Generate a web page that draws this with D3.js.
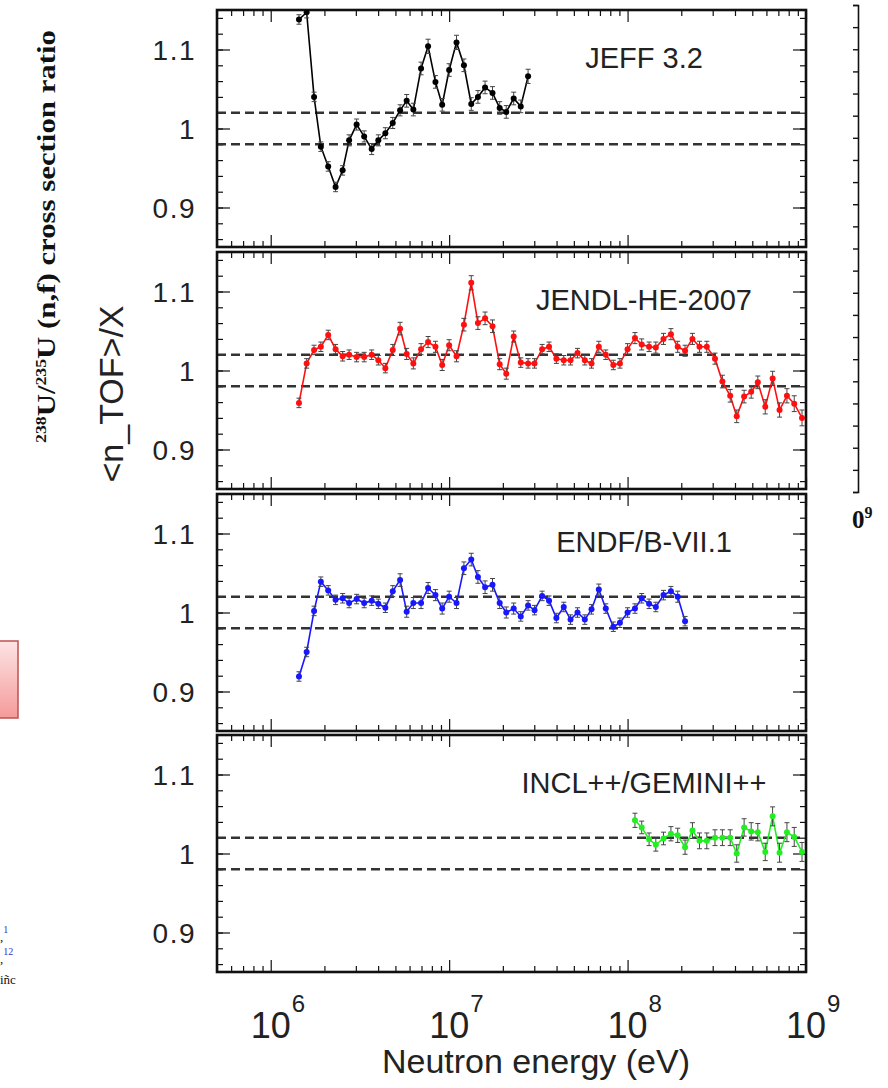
<!DOCTYPE html>
<html>
<head>
<meta charset="utf-8">
<script src="https://cdn.jsdelivr.net/npm/d3@7"></script>
<style>
body { margin: 0; background: #fff; }
svg { display: block; }
</style>
</head>
<body>
<div id="chart"></div>
<script>
// bin centres (eV)
var energy = [1.44e6,1.59e6,1.75e6,1.91e6,2.10e6,2.31e6,2.53e6,2.75e6,3.03e6,3.34e6,
  3.68e6,4.01e6,4.39e6,4.83e6,5.31e6,5.78e6,6.30e6,6.96e6,7.62e6,8.38e6,
  9.14e6,1.00e7,1.10e7,1.21e7,1.33e7,1.45e7,1.59e7,1.75e7,1.92e7,2.09e7,
  2.30e7,2.52e7,2.77e7,3.01e7,3.32e7,3.63e7,3.99e7,4.39e7,4.79e7,5.24e7,
  5.76e7,6.28e7,6.90e7,7.55e7,8.32e7,9.06e7,1.00e8,1.10e8,1.20e8,1.32e8,
  1.44e8,1.59e8,1.75e8,1.91e8,2.10e8,2.31e8,2.53e8,2.78e8,3.09e8,3.40e8,
  3.76e8,4.09e8,4.50e8,4.93e8,5.37e8,5.91e8,6.50e8,7.11e8,7.82e8,8.59e8,9.50e8];

var panelNames = ["JEFF 3.2", "JENDL-HE-2007", "ENDF/B-VII.1", "INCL++/GEMINI++"];
var firstBin = [0, 0, 0, 47];

var jeffRatio = [1.138,1.147,1.040,0.977,0.952,0.926,0.947,0.985,1.005,0.990,
  0.974,0.985,0.994,1.007,1.023,1.035,1.024,1.076,1.104,1.059,
  1.030,1.074,1.109,1.080,1.031,1.040,1.052,1.045,1.026,1.021,
  1.038,1.028,1.066];
var jeffErr = [0.006,0.007,0.006,0.006,0.006,0.006,0.006,0.007,0.007,0.007,
  0.007,0.007,0.007,0.007,0.007,0.008,0.008,0.008,0.009,0.008,
  0.008,0.008,0.009,0.008,0.008,0.008,0.008,0.008,0.008,0.008,
  0.008,0.008,0.009];

var jendlRatio = [0.959,1.009,1.026,1.030,1.045,1.027,1.018,1.020,1.017,1.017,
  1.020,1.013,1.003,1.026,1.053,1.021,1.009,1.027,1.036,1.030,
  1.007,1.032,1.018,1.058,1.111,1.060,1.066,1.056,1.008,0.996,
  1.043,1.010,1.009,1.009,1.027,1.030,1.015,1.013,1.013,1.022,
  1.013,1.009,1.030,1.020,1.007,1.009,1.027,1.041,1.033,1.030,
  1.029,1.040,1.046,1.030,1.025,1.040,1.030,1.030,1.015,0.986,
  0.968,0.942,0.967,0.973,0.985,0.954,0.990,0.950,0.968,0.958,0.940];
var jendlErr = [0.006,0.006,0.006,0.006,0.006,0.006,0.006,0.006,0.006,0.006,
  0.006,0.006,0.006,0.007,0.008,0.007,0.007,0.007,0.007,0.007,
  0.007,0.007,0.007,0.008,0.009,0.008,0.008,0.008,0.007,0.007,
  0.007,0.006,0.006,0.006,0.006,0.006,0.006,0.006,0.006,0.006,
  0.006,0.006,0.007,0.006,0.006,0.006,0.007,0.007,0.007,0.006,
  0.007,0.007,0.007,0.007,0.007,0.007,0.007,0.007,0.007,0.008,
  0.008,0.008,0.008,0.008,0.008,0.009,0.009,0.009,0.009,0.010,0.010];

var endfRatio = [0.919,0.950,1.002,1.039,1.028,1.016,1.018,1.012,1.017,1.012,
  1.015,1.011,1.006,1.027,1.041,1.001,1.012,1.012,1.031,1.022,
  1.005,1.020,1.012,1.056,1.067,1.045,1.032,1.035,1.012,1.000,
  1.005,0.995,1.009,1.003,1.021,1.015,0.993,1.007,0.991,1.000,
  0.991,1.004,1.029,1.005,0.982,0.987,1.000,1.005,1.018,1.011,
  1.007,1.022,1.027,1.020,0.989];
var endfErr = [0.006,0.006,0.006,0.006,0.006,0.006,0.006,0.006,0.006,0.006,
  0.006,0.006,0.006,0.007,0.008,0.007,0.007,0.007,0.007,0.007,
  0.007,0.007,0.007,0.008,0.008,0.008,0.008,0.008,0.007,0.007,
  0.007,0.006,0.006,0.006,0.006,0.006,0.006,0.006,0.006,0.006,
  0.006,0.006,0.007,0.006,0.006,0.006,0.006,0.006,0.006,0.006,
  0.006,0.006,0.006,0.007,0.006];

var inclRatio = [1.042,1.033,1.018,1.011,1.019,1.025,1.023,1.008,1.029,1.016,
  1.016,1.020,1.020,1.020,1.000,1.033,1.028,1.027,1.002,1.047,
  1.001,1.027,1.021,1.002];
var inclErr = [0.009,0.008,0.008,0.008,0.008,0.009,0.009,0.009,0.010,0.010,
  0.010,0.010,0.010,0.010,0.011,0.011,0.011,0.011,0.011,0.012,
  0.012,0.012,0.012,0.012];

var seriesColors = ["#000000", "#ff1010", "#1818ff", "#22ee22"];
var yTicks = [0.9, 1, 1.1];
var xDecades = [1e6, 1e7, 1e8, 1e9];
var xExponents = ["6", "7", "8", "9"];
var bandLines = [0.98, 1.02];

var ratios = [jeffRatio, jendlRatio, endfRatio, inclRatio];
var errors = [jeffErr, jendlErr, endfErr, inclErr];

var W = 888, H = 1088;
var left = 217, right = 806, panelH = 237;
var tops = [10, 252, 494, 735];

var svg = d3.select("#chart").append("svg")
  .attr("width", W).attr("height", H)
  .style("font-family", "'Liberation Sans', Arial, sans-serif");

var x = d3.scaleLog().domain([5e5, 1e9]).range([left, right]);
var minorX = x.ticks().filter(function(t){ return xDecades.indexOf(t) < 0; });

var defs = svg.append("defs");

ratios.forEach(function(vals, i){
  var top = tops[i], bottom = top + panelH;
  var y = d3.scaleLinear().domain([0.85, 1.15]).range([bottom, top]);
  var minorY = y.ticks(15);
  var g = svg.append("g");

  defs.append("clipPath").attr("id", "clip" + i)
    .append("rect").attr("x", left).attr("y", top)
    .attr("width", right - left).attr("height", panelH);

  // axes ticks (inward on all four sides)
  function ticks(axis, tr){
    var a = g.append("g").attr("transform", tr).call(axis);
    a.select(".domain").remove();
    a.selectAll("line").attr("stroke", "#111").attr("stroke-width", 1.2);
  }
  ticks(d3.axisBottom(x).tickValues(minorX).tickSize(-6).tickFormat(""), "translate(0," + bottom + ")");
  ticks(d3.axisBottom(x).tickValues(xDecades).tickSize(-12).tickFormat(""), "translate(0," + bottom + ")");
  ticks(d3.axisTop(x).tickValues(minorX).tickSize(-6).tickFormat(""), "translate(0," + top + ")");
  ticks(d3.axisTop(x).tickValues(xDecades).tickSize(-12).tickFormat(""), "translate(0," + top + ")");
  ticks(d3.axisLeft(y).tickValues(minorY).tickSize(-6).tickFormat(""), "translate(" + left + ",0)");
  ticks(d3.axisLeft(y).tickValues(yTicks).tickSize(-13).tickFormat(""), "translate(" + left + ",0)");
  ticks(d3.axisRight(y).tickValues(minorY).tickSize(-6).tickFormat(""), "translate(" + right + ",0)");
  ticks(d3.axisRight(y).tickValues(yTicks).tickSize(-13).tickFormat(""), "translate(" + right + ",0)");

  // dashed reference lines
  g.selectAll(".band").data(bandLines).enter().append("line")
    .attr("x1", left).attr("x2", right)
    .attr("y1", function(d){ return y(d); }).attr("y2", function(d){ return y(d); })
    .attr("stroke", "#333").attr("stroke-width", 2.4)
    .attr("stroke-dasharray", "9,5");

  // frame
  g.append("rect").attr("x", left).attr("y", top)
    .attr("width", right - left).attr("height", panelH)
    .attr("fill", "none").attr("stroke", "#111").attr("stroke-width", 2.6);

  // y tick labels
  g.selectAll(".yl").data(yTicks).enter().append("text")
    .attr("x", 196).attr("y", function(d){ return y(d); })
    .attr("dy", "0.36em").attr("text-anchor", "end")
    .attr("font-size", 28).attr("letter-spacing", 1.5).attr("fill", "#222")
    .text(function(d){ return d === 1 ? "1" : d3.format(".1f")(d); });

  // panel label
  g.append("text").attr("x", 644).attr("y", top + 58)
    .attr("text-anchor", "middle").attr("font-size", 29).attr("fill", "#222")
    .text(panelNames[i]);

  // data
  var pts = vals.map(function(v, k){
    return { e: energy[firstBin[i] + k], v: v, err: errors[i][k] };
  });
  var col = seriesColors[i];
  var dg = g.append("g").attr("clip-path", "url(#clip" + i + ")");

  dg.append("path").datum(pts)
    .attr("fill", "none").attr("stroke", col).attr("stroke-width", 1.6)
    .attr("d", d3.line().x(function(d){ return x(d.e); }).y(function(d){ return y(d.v); }));

  var eb = dg.selectAll(".eb").data(pts).enter().append("g")
    .attr("stroke", "#444").attr("stroke-width", 1);
  eb.append("line")
    .attr("x1", function(d){ return x(d.e); }).attr("x2", function(d){ return x(d.e); })
    .attr("y1", function(d){ return y(d.v - d.err); }).attr("y2", function(d){ return y(d.v + d.err); });
  eb.append("line")
    .attr("x1", function(d){ return x(d.e) - 2.5; }).attr("x2", function(d){ return x(d.e) + 2.5; })
    .attr("y1", function(d){ return y(d.v + d.err); }).attr("y2", function(d){ return y(d.v + d.err); });
  eb.append("line")
    .attr("x1", function(d){ return x(d.e) - 2.5; }).attr("x2", function(d){ return x(d.e) + 2.5; })
    .attr("y1", function(d){ return y(d.v - d.err); }).attr("y2", function(d){ return y(d.v - d.err); });

  dg.selectAll(".pt").data(pts).enter().append("circle")
    .attr("cx", function(d){ return x(d.e); }).attr("cy", function(d){ return y(d.v); })
    .attr("r", 3).attr("fill", col);
});

// x tick labels under the last panel
var xl = svg.selectAll(".xl").data(xDecades).enter().append("g")
  .attr("transform", function(d){ return "translate(" + x(d) + ",1038)"; });
xl.append("text").attr("text-anchor", "middle").attr("font-size", 36).attr("fill", "#222").text("10");
xl.append("text").attr("x", 21).attr("y", -26).attr("font-size", 24).attr("fill", "#222")
  .text(function(d, i){ return xExponents[i]; });

svg.append("text").attr("x", 536).attr("y", 1073).attr("text-anchor", "middle")
  .attr("font-size", 34).attr("fill", "#222").text("Neutron energy (eV)");

svg.append("text").attr("transform", "translate(123,394) rotate(-90)")
  .attr("text-anchor", "middle").attr("font-size", 34).attr("fill", "#222")
  .text("<n_TOF>/X");

// bold serif axis title left over from the original figure
var t2 = svg.append("text").attr("transform", "translate(55,443) rotate(-90)")
  .attr("font-family", "'Liberation Serif', 'Times New Roman', serif")
  .attr("font-weight", "bold").attr("font-size", 26).attr("fill", "#111")
  .attr("textLength", 413).attr("lengthAdjust", "spacingAndGlyphs");
t2.append("tspan").attr("font-size", 15).attr("dy", -9).text("238");
t2.append("tspan").attr("dy", 9).text("U/");
t2.append("tspan").attr("font-size", 15).attr("dy", -9).text("235");
t2.append("tspan").attr("dy", 9).text("U (n,f) cross section ratio");

// right-hand axis from the neighbouring figure
var yr = d3.scaleLinear().domain([0, 2.2]).range([492, 5]);
var ra = svg.append("g").attr("transform", "translate(858,0)")
  .call(d3.axisLeft(yr).ticks(22).tickSize(5).tickFormat(""));
ra.selectAll("line").attr("stroke", "#111").attr("stroke-width", 1.4);
ra.select(".domain").attr("stroke", "#111").attr("stroke-width", 1.6);

var r9 = svg.append("text").attr("x", 852).attr("y", 528)
  .attr("font-family", "'Liberation Serif', serif").attr("font-weight", "bold")
  .attr("font-size", 25).attr("fill", "#111");
r9.append("tspan").text("0");
r9.append("tspan").attr("font-size", 16).attr("dy", -10).text("9");

// red box and text fragments on the left edge
var grad = defs.append("linearGradient").attr("id", "pink")
  .attr("x1", 0).attr("y1", 0).attr("x2", 0).attr("y2", 1);
grad.append("stop").attr("offset", 0).attr("stop-color", "#fde4e4");
grad.append("stop").attr("offset", 1).attr("stop-color", "#f59a9a");
svg.append("rect").attr("x", -3).attr("y", 641).attr("width", 21).attr("height", 77)
  .attr("fill", "url(#pink)").attr("stroke", "#c0504d").attr("stroke-width", 1.5);

var frag = svg.append("g").attr("font-family", "'Liberation Serif', serif").attr("font-size", 13);
var f1 = frag.append("text").attr("x", 0).attr("y", 941);
f1.append("tspan").attr("fill", "#111").text(",");
f1.append("tspan").attr("fill", "#3333cc").attr("font-size", 10).attr("dy", -8).text("1");
var f2 = frag.append("text").attr("x", 0).attr("y", 963);
f2.append("tspan").attr("fill", "#111").text(",");
f2.append("tspan").attr("fill", "#3333cc").attr("font-size", 10).attr("dy", -8).text("12");
frag.append("text").attr("x", 0).attr("y", 984).attr("fill", "#111").text("iñc");
</script>
</body>
</html>
